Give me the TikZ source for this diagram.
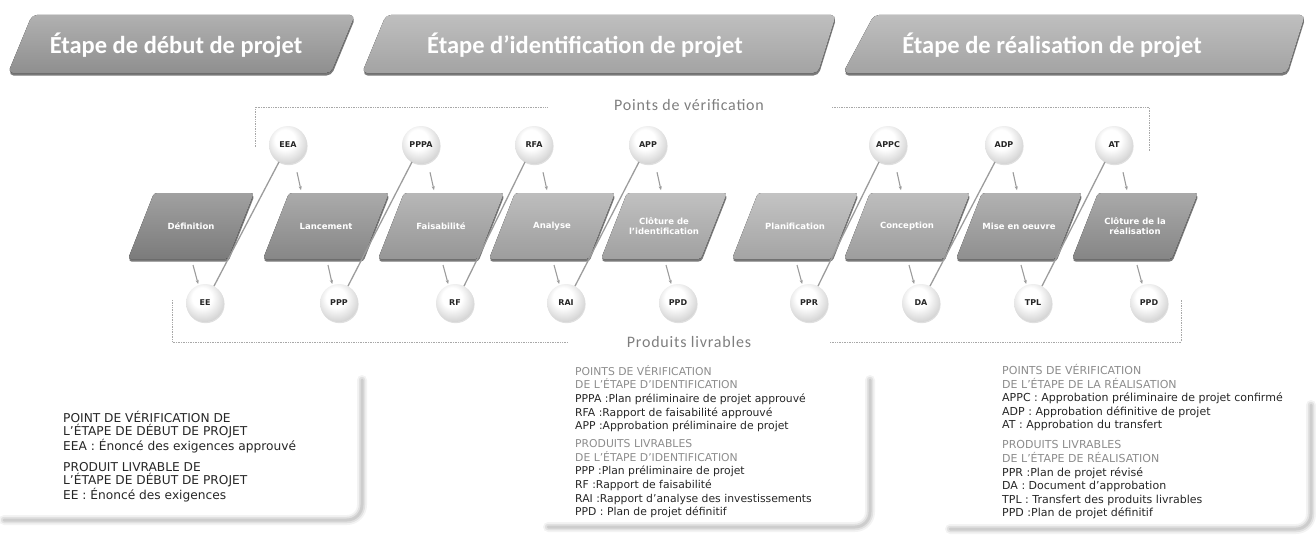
\documentclass[tikz,border=0pt]{standalone}
\usepackage{fontspec}
\setmainfont{DejaVu Sans}
\newfontfamily\bannerfont{Carlito}
\newfontfamily\captionfont[LetterSpace=5]{Carlito}
\usetikzlibrary{calc,shadows,arrows.meta}

\definecolor{linegray}{HTML}{9C9C9C}
\definecolor{framegray}{HTML}{A8A8A8}
\definecolor{headgray}{HTML}{8C8C8C}
\definecolor{bodytext}{HTML}{262626}
\definecolor{captiongray}{HTML}{7E7E7E}
% banner and step tones
\colorlet{bandA}{gray!88}
\colorlet{bandB}{gray!72}
\colorlet{tone1}{gray!95}
\colorlet{tone2}{gray!85}
\colorlet{tone3}{gray!72}
\colorlet{tone4}{gray!66}
\colorlet{tone5}{gray!63}
\colorlet{tone6}{gray!60}
\colorlet{tone7}{gray!78}
\colorlet{tone8}{gray!86}

% sphere shading for the checkpoint / deliverable bubbles
\pgfdeclareradialshading{bubble}{\pgfpoint{-5bp}{9bp}}{%
  color(0bp)=(white); color(13bp)=(white); color(29bp)=(gray!33);
  color(43bp)=(gray!62); color(60bp)=(gray!80)}

\tikzset{
  bannerfill/.style={rounded corners=5pt, top color=#1!70!white, bottom color=#1,
    drop shadow={shadow xshift=0.5pt, shadow yshift=-2.5pt, opacity=0.75, fill=black!70}},
  bannertext/.style={font=\bannerfont\bfseries\fontsize{24.5}{27}\selectfont, text=white},
  stepfill/.style={rounded corners=3pt, top color=#1!78!white, bottom color=#1!92!black,
    drop shadow={shadow xshift=0.5pt, shadow yshift=-2.5pt, opacity=0.7, fill=black!75}},
  steplabel/.style={font=\bfseries\fontsize{8.5}{10.5}\selectfont, text=white, align=center, inner sep=0pt},
  bubble/.style={circle, minimum size=38pt, inner sep=0pt, shading=bubble,
    font=\bfseries\fontsize{8}{9}\selectfont, text=black!85,
    drop shadow={shadow xshift=0.6pt, shadow yshift=-1.2pt, opacity=0.25}},
  arr/.style={draw=linegray, line width=1.1pt, -{Stealth[length=4pt,width=3.2pt]}},
  diag/.style={draw=linegray, line width=1.3pt},
  dotframe/.style={draw=framegray, line width=0.7pt, densely dotted},
  caption/.style={font=\captionfont\fontsize{16}{18}\selectfont, text=captiongray},
  boxshade/.style={draw=gray!75, rounded corners=15pt, line cap=round},
  notes/.style={anchor=north west, align=left, inner sep=0pt, text=bodytext},
}

% one slanted step of the project cycle
\newcommand\stepbox[4]{%
  \fill[stepfill=#3] ({#2-63},259) -- ({#2+37},259) -- ({#2+63},193) -- ({#2-37},193) -- cycle;
  \coordinate (#1-b) at (#2,259);
  \node[steplabel] (#1) at (#2,226) {#4};
}
% soft shadow along the right and bottom side of a legend panel
\newcommand\panelshade[4]{%
  \draw[boxshade, line width=10pt, opacity=0.12] (#1,#2) -- (#1,#3) -- (#4,#3);
  \draw[boxshade, line width=6.5pt, opacity=0.22] (#1,#2) -- (#1,#3) -- (#4,#3);
  \draw[boxshade, line width=3pt, opacity=0.30] (#1,#2) -- (#1,#3) -- (#4,#3);
}

\begin{document}
\begin{tikzpicture}[x=1pt,y=-1pt]
\useasboundingbox (0,0) rectangle (1316,535);

% ---------- phase banners ----------
\fill[bannerfill=bandA] (8,73) -- (32,15) -- (355,15) -- (331,73) -- cycle;
\fill[bannerfill=bandB] (362,73) -- (386,15) -- (836,15) -- (818,73) -- cycle;
\fill[bannerfill=bandB] (843,73) -- (874,15) -- (1305,15) -- (1287,73) -- cycle;
\node[bannertext] (b1) at (176,45) {Étape de début de projet};
\node[bannertext] (b2) at (585,45) {Étape d’identification de projet};
\node[bannertext] (b3) at (1052,45) {Étape de réalisation de projet};

% ---------- checkpoint frame ----------
\node[caption] (pv) at (689,105) {Points de vérification};
\draw[dotframe] (255,147) |- (548,107);
\draw[dotframe] (832,107) -| (1149,152);

% ---------- steps ----------
\stepbox{def}{191}{tone1}{Définition}
\stepbox{lan}{326}{tone2}{Lancement}
\stepbox{fai}{441}{tone3}{Faisabilité}
\stepbox{ana}{552}{tone4}{Analyse}
\stepbox{cli}{664}{tone5}{Clôture de\\l’identification}
\stepbox{pla}{795}{tone6}{Planification}
\stepbox{con}{907}{tone4}{Conception}
\stepbox{mis}{1019}{tone7}{Mise en oeuvre}
\stepbox{clr}{1135}{tone8}{Clôture de la\\réalisation}

% ---------- checkpoints ----------
\node[bubble] (EEA)  at (288,145)  {EEA};
\node[bubble] (PPPA) at (421,145)  {PPPA};
\node[bubble] (RFA)  at (534,145)  {RFA};
\node[bubble] (APP)  at (648,145)  {APP};
\node[bubble] (APPC) at (888,145)  {APPC};
\node[bubble] (ADP)  at (1004,145) {ADP};
\node[bubble] (AT)   at (1114,145) {AT};

% ---------- deliverables ----------
\node[bubble] (EE)   at (205,303)  {EE};
\node[bubble] (PPP)  at (339,303)  {PPP};
\node[bubble] (RF)   at (455,303)  {RF};
\node[bubble] (RAI)  at (566,303)  {RAI};
\node[bubble] (PPDi) at (678,303)  {PPD};
\node[bubble] (PPR)  at (809,303)  {PPR};
\node[bubble] (DA)   at (921,303)  {DA};
\node[bubble] (TPL)  at (1033,303) {TPL};
\node[bubble] (PPDr) at (1149,303) {PPD};

% ---------- deliverable frame ----------
\node[caption] (pl) at (689,342) {Produits livrables};
\draw[dotframe] (172,300) |- (567,342);
\draw[dotframe] (830,342) -| (1181,300);

% ---------- checkpoint -> next step ----------
\foreach \c in {EEA,PPPA,RFA,APP,APPC,ADP,AT}
  \draw[arr] ($(\c.south)+(9,8)$) -- ($(\c.south)+(13,26)$);

% ---------- step -> deliverable ----------
\foreach \s/\d in {def/EE,lan/PPP,fai/RF,ana/RAI,cli/PPDi,pla/PPR,con/DA,mis/TPL,clr/PPDr}
  \draw[arr, shorten >=1pt] ($(\s-b)+(2,6)$) -- (\d.110);

% ---------- deliverable -> checkpoint ----------
\foreach \d/\c in {EE/EEA,PPP/PPPA,RF/RFA,RAI/APP,PPR/APPC,DA/ADP,TPL/AT}
  \draw[diag] (\d.62) -- (\c.242);

% ---------- legend panels ----------
\panelshade{362}{380}{520}{4}
\panelshade{870}{380}{527}{548}
\panelshade{1311}{405}{529}{950}

\node[notes, font=\fontsize{12.2}{13.4}\selectfont] (n1) at (63,411) {%
  POINT DE VÉRIFICATION DE\\
  L’ÉTAPE DE DÉBUT DE PROJET\\
  EEA : Énoncé des exigences approuvé\\[7.5pt]
  PRODUIT LIVRABLE DE\\
  L’ÉTAPE DE DÉBUT DE PROJET\\
  EE : Énoncé des exigences};

\node[notes, font=\fontsize{10.8}{13.6}\selectfont] (n2) at (575,365) {%
  \textcolor{headgray}{POINTS DE VÉRIFICATION}\\
  \textcolor{headgray}{DE L’ÉTAPE D’IDENTIFICATION}\\
  PPPA :Plan préliminaire de projet approuvé\\
  RFA :Rapport de faisabilité approuvé\\
  APP :Approbation préliminaire de projet\\[4.5pt]
  \textcolor{headgray}{PRODUITS LIVRABLES}\\
  \textcolor{headgray}{DE L’ÉTAPE D’IDENTIFICATION}\\
  PPP :Plan préliminaire de projet\\
  RF :Rapport de faisabilité\\
  RAI :Rapport d’analyse des investissements\\
  PPD : Plan de projet définitif};

\node[notes, font=\fontsize{11}{13.6}\selectfont] (n3) at (1002,364) {%
  \textcolor{headgray}{POINTS DE VÉRIFICATION}\\
  \textcolor{headgray}{DE L’ÉTAPE DE LA RÉALISATION}\\
  APPC : Approbation préliminaire de projet confirmé\\
  ADP : Approbation définitive de projet\\
  AT : Approbation du transfert\\[6.5pt]
  \textcolor{headgray}{PRODUITS LIVRABLES}\\
  \textcolor{headgray}{DE L’ÉTAPE DE RÉALISATION}\\
  PPR :Plan de projet révisé\\
  DA : Document d’approbation\\
  TPL : Transfert des produits livrables\\
  PPD :Plan de projet définitif};
\end{tikzpicture}
\end{document}
